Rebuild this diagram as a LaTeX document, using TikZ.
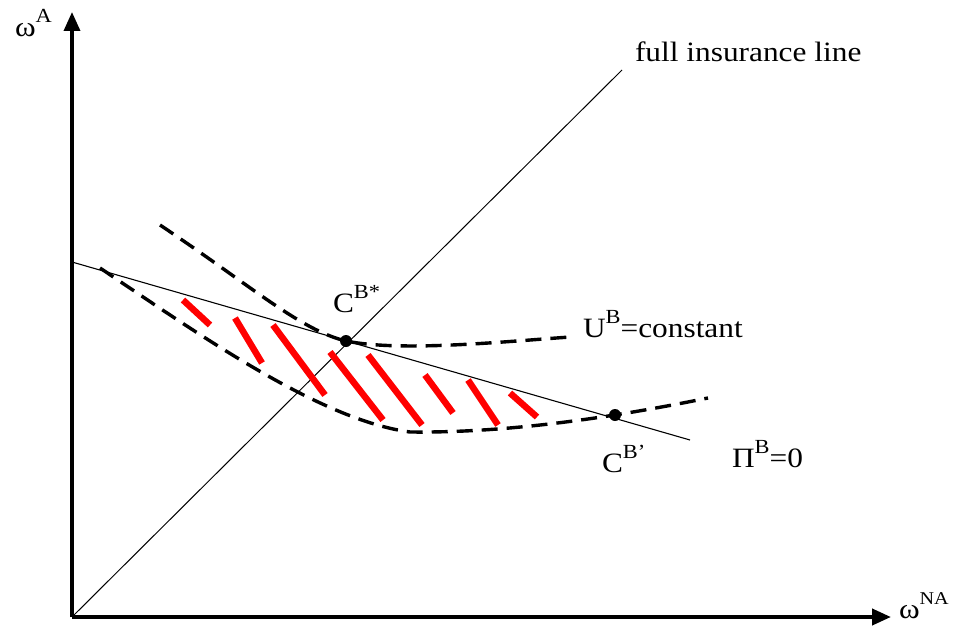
\documentclass[tikz,border=0pt]{standalone}
\usepackage{fontspec}
\setmainfont{Liberation Serif}[FakeStretch=1.12]
\usetikzlibrary{arrows.meta}
\tikzset{
  lbl/.style={anchor=base west,inner sep=0pt,outer sep=0pt,font=\fontsize{28}{30}\selectfont},
  axis/.style={line width=3.5pt,-{Triangle[length=19pt,width=16pt]}},
  dashcurve/.style={line width=3.4pt,dash pattern=on 16pt off 9pt},
  thinline/.style={line width=1.1pt},
  hatch/.style={red,line width=6.5pt},
  dot/.style={circle,fill=black,inner sep=0pt,minimum size=12pt}
}
\newcommand{\sups}[1]{\raisebox{0.5em}{\fontsize{20}{20}\selectfont #1}}
\begin{document}
\begin{tikzpicture}[x=1pt,y=-1pt]
\useasboundingbox (0,0) rectangle (961,626);
% coordinates
\coordinate (O) at (72,617);
\coordinate (ytip) at (72,12);
\coordinate (xtip) at (891,617);
\coordinate (ymid) at (72,343);
\coordinate (fend) at (622,70);
\coordinate (pistart) at (72,262);
\coordinate (piend) at (690,440);
\coordinate (ustart) at (160,225);
\coordinate (uend) at (570,337);
\coordinate (lstart) at (100,268);
\coordinate (lmid) at (410,432);
\coordinate (lend) at (708,398);
% axes
\draw[axis] (O) -- (ytip);
\draw[line width=4.5pt] (O) -- (ymid);
\draw[axis,line width=4pt] (O) -- (xtip);
% full insurance line
\draw[thinline,line width=1pt] (O) -- (fend);
% budget line
\draw[thinline] (pistart) -- (piend);
% red hatching
\draw[hatch] (183,300) -- (210,325);
\draw[hatch] (235,318) -- (262,363);
\draw[hatch] (273,325) -- (325,395);
\draw[hatch] (330,352) -- (383,420);
\draw[hatch] (368,355) -- (422,425);
\draw[hatch] (425,375) -- (453,413);
\draw[hatch] (468,380) -- (498,425);
\draw[hatch] (510,393) -- (537,417);
% dots
\node[dot] (cstar) at (346,341) {};
\node[dot] (cprime) at (615,415) {};
% indifference curves
\draw[dashcurve] (ustart) .. controls (250,285) and (300,330) .. (cstar.center)
  .. controls (400,352) and (500,342) .. (uend);
\draw[dashcurve] (lstart) .. controls (200,335) and (320,420) .. (lmid)
  .. controls (500,433) and (600,420) .. (lend);
% labels
\node[lbl] (wA) at (15,37) {ω\sups{A}};
\node[lbl] (wNA) at (899,618) {ω\raisebox{0.5em}{\fontsize{18}{18}\selectfont NA}};
\node[lbl] (fil) at (635,62) {full insurance line};
\node[lbl] (ub) at (583,337) {U\sups{B}=constant};
\node[lbl] (cbs) at (333,312) {C\sups{B*}};
\node[lbl] (cbp) at (602,472) {C\sups{B'}};
\node[lbl] (pib) at (732,467) {Π\sups{B}=0};
\end{tikzpicture}
\end{document}
